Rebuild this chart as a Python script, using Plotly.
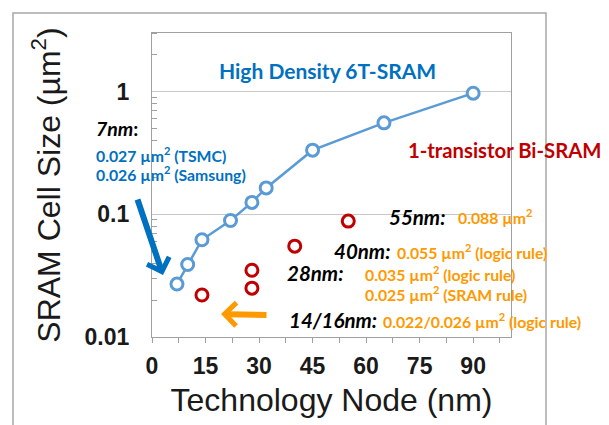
import math
import plotly.graph_objects as go

# ---- data ----
sram6t_node = [7, 10, 14, 22, 28, 32, 45, 65, 90]
sram6t_size = [0.027, 0.039, 0.062, 0.089, 0.125, 0.164, 0.333, 0.556, 0.97]
bisram_node = [14, 28, 28, 40, 55]
bisram_size = [0.022, 0.025, 0.035, 0.055, 0.088]
x_ticks = [0, 15, 30, 45, 60, 75, 90]
x_minor = [7.5, 22.5, 37.5, 52.5, 67.5, 82.5, 97.5]
y_ticks = [0.01, 0.1, 1]
y_ticklabels = ["0.01", "0.1", "1"]
y_minor = [0.02, 0.03, 0.04, 0.05, 0.06, 0.07, 0.08, 0.09,
           0.2, 0.3, 0.4, 0.5, 0.6, 0.7, 0.8, 0.9, 2, 3]

BLUE_TXT = "#0070C0"
BLUE_LINE = "#5B9BD5"
RED = "#C00000"
ORANGE = "#FF9900"
LBL_FONT = "Lato"
AX_FONT = "Liberation Sans, Arial"

fig = go.Figure()
fig.add_trace(go.Scatter(
    x=sram6t_node, y=sram6t_size, mode="lines+markers",
    line=dict(color=BLUE_LINE, width=2.5),
    marker=dict(size=12, color="white", line=dict(color=BLUE_LINE, width=3)),
    showlegend=False, name="High Density 6T-SRAM"))
fig.add_trace(go.Scatter(
    x=bisram_node, y=bisram_size, mode="markers",
    marker=dict(size=12, color="white", line=dict(color=RED, width=3)),
    showlegend=False, name="1-transistor Bi-SRAM"))

W, H = 609, 425
L, R, T, B = 152, 98, 33, 88
PW, PH = W - L - R, H - T - B

def px(xp):
    return (xp - L) / PW

def py(yp):
    return (H - B - yp) / PH

ann = []
def txt(text, xp, yp, color, size, anchor="left"):
    ann.append(dict(text=text, x=px(xp), y=py(yp), xref="paper", yref="paper",
                    xanchor=anchor, yanchor="middle", showarrow=False,
                    font=dict(family=LBL_FONT, size=size, color=color)))

NM = 20.5
VAL = 15.8
txt("<b>High Density 6T-SRAM</b>", 327, 70, BLUE_TXT, 21, anchor="center")
txt("<b>1-transistor Bi-SRAM</b>", 406, 150, RED, 20.3)
txt("<b><i>7nm</i>:</b>", 94, 128, "black", NM - 1)
txt("<b>0.027 µm<sup>2</sup> (TSMC)</b>", 94, 154, BLUE_TXT, VAL)
txt("<b>0.026 µm<sup>2</sup> (Samsung)</b>", 94, 173.5, BLUE_TXT, VAL)
txt("<b><i>55nm:</i></b>", 387, 216.5, "black", NM)
txt("<b>0.088 µm<sup>2</sup></b>", 456, 216, ORANGE, VAL)
txt("<b><i>40nm:</i></b>", 332, 251, "black", NM)
txt("<b>0.055 µm<sup>2</sup> (logic rule)</b>", 395, 251, ORANGE, VAL)
txt("<b><i>28nm:</i></b>", 285, 273, "black", NM)
txt("<b>0.035 µm<sup>2</sup> (logic rule)</b>", 363, 273, ORANGE, VAL)
txt("<b>0.025 µm<sup>2</sup> (SRAM rule)</b>", 363, 293, ORANGE, VAL)
txt("<b><i>14/16nm:</i></b>", 287, 320, "black", NM)
txt("<b>0.022/0.026 µm<sup>2</sup> (logic rule)</b>", 381, 320, ORANGE, VAL)

# arrows
ann.append(dict(text="", x=px(163), y=py(275), xref="paper", yref="paper",
                ax=-26, ay=-77, showarrow=True, arrowhead=4, arrowsize=0.75,
                arrowwidth=6, arrowcolor=BLUE_TXT))
ann.append(dict(text="", x=px(221), y=py(314), xref="paper", yref="paper",
                ax=47, ay=1, showarrow=True, arrowhead=4, arrowsize=0.75,
                arrowwidth=6, arrowcolor=ORANGE))

shapes = [dict(type="rect", xref="paper", yref="paper",
               x0=px(13), x1=px(546), y0=py(440), y1=py(13),
               line=dict(color="#A6A6A6", width=1.5), fillcolor="rgba(0,0,0,0)",
               layer="below")]

fig.update_layout(
    width=W, height=H, margin=dict(l=L, r=R, t=T, b=B),
    paper_bgcolor="white", plot_bgcolor="white",
    annotations=ann, shapes=shapes,
    xaxis=dict(range=[0, 100.6], tickvals=x_ticks,
               ticktext=["<b>%d</b>" % v for v in x_ticks],
               ticks="outside", ticklen=5, tickcolor="#A0A0A0", tickwidth=1,
               showgrid=False, zeroline=False,
               showline=True, linecolor="#A0A0A0", linewidth=1.2, mirror=True,
               tickfont=dict(family=AX_FONT, size=23, color="#1a1a1a"),
               ticklabelstandoff=3,
               minor=dict(tickvals=x_minor, ticks="outside", ticklen=5,
                          tickcolor="#A0A0A0", showgrid=False),
               title=dict(text="Technology Node (nm)", standoff=10,
                          font=dict(family=AX_FONT, size=32, color="#1a1a1a"))),
    yaxis=dict(type="log", range=[-2, math.log10(3)], tickvals=y_ticks,
               ticktext=["<b>%s</b>" % t for t in y_ticklabels],
               ticks="", showgrid=True, gridcolor="#C8C8C8", gridwidth=1.2,
               zeroline=False,
               showline=True, linecolor="#A0A0A0", linewidth=1.2, mirror=True,
               tickfont=dict(family=AX_FONT, size=23, color="#1a1a1a"),
               ticklabelstandoff=17,
               minor=dict(tickvals=y_minor, ticks="inside", ticklen=5,
                          tickcolor="#A0A0A0", showgrid=False),
               title=dict(text="SRAM Cell Size (µm<sup>2</sup>)", standoff=14,
                          font=dict(family=AX_FONT, size=32, color="#1a1a1a"))),
)

fig.write_html("out.html")
